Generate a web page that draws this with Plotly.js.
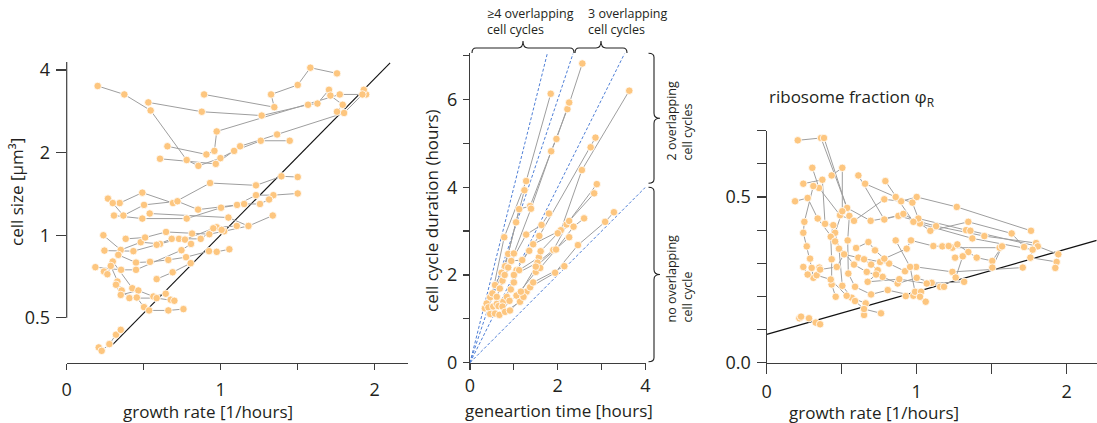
<!DOCTYPE html>
<html><head><meta charset="utf-8">
<script src="https://cdn.plot.ly/plotly-3.0.1.min.js"></script>
<style>html,body{margin:0;padding:0;background:#fff}#chart{width:1097px;height:423px}</style>
</head><body><div id="chart"></div>
<script>
// ---------- Panel 1: cell size vs growth rate (one sub-array per strain trajectory)
const sizeX = [
  [0.201,0.374,0.545,0.779,0.855,0.998,1.087,1.260,1.448],
  [0.530,0.877,1.266,1.567,1.628,1.703,1.712,1.792,1.755],
  [0.892,1.348,1.327,1.500,1.582,1.755],
  [0.654,0.907,0.959,0.974,1.773,1.944,1.929],
  [0.606,0.968,1.126,1.366,1.801,1.920],
  [0.268,0.344,0.491,0.690,0.931,1.229,1.394,1.500],
  [0.299,0.368,0.502,0.719,0.853,1.106,1.229,1.342,1.500],
  [0.307,0.491,0.779,1.002,1.152,1.255,1.314],
  [0.539,1.050,1.180,1.338],
  [0.238,0.351,0.481,0.606,0.729,0.870,0.974,1.104],
  [0.383,0.509,0.645,0.814,0.926,1.022,1.180],
  [0.245,0.433,0.584,0.682,0.768,0.952,1.006],
  [0.335,0.450,0.541,0.660,0.775,0.924,0.974,1.056],
  [0.186,0.353,0.450,0.745,0.807],
  [0.242,0.264,0.299,0.426,0.563,0.643,0.675],
  [0.286,0.329,0.357,0.407,0.584,0.699],
  [0.320,0.351,0.465,0.455,0.502,0.535,0.660,0.758],
  [0.584,0.688,0.805],
  [0.208,0.227,0.277,0.320,0.351]
];
const sizeY = [
  [3.50,3.26,2.85,1.88,1.79,1.91,2.03,2.21,2.21],
  [3.05,2.82,2.73,2.99,3.02,3.39,3.23,2.99,2.82],
  [3.26,2.93,3.26,3.53,4.08,3.89],
  [2.11,1.97,2.03,2.39,3.26,3.26,3.39],
  [1.90,1.82,2.11,2.33,2.79,3.26],
  [1.36,1.31,1.43,1.31,1.55,1.52,1.64,1.63],
  [1.31,1.18,1.29,1.33,1.24,1.29,1.40,1.40,1.42],
  [1.18,1.15,1.15,1.26,1.30,1.30,1.35],
  [1.20,1.16,1.08,1.18],
  [1.000,0.884,0.943,0.930,0.970,0.970,1.069,1.081],
  [0.970,0.981,1.028,1.014,1.009,1.034,1.081],
  [0.879,0.875,0.923,0.970,0.964,1.060,1.046],
  [0.848,0.795,0.800,0.813,0.832,0.875,0.870,0.889],
  [0.765,0.748,0.748,0.882,0.930],
  [0.738,0.721,0.802,0.641,0.598,0.612,0.582],
  [0.773,0.678,0.629,0.590,0.590,0.577],
  [0.660,0.606,0.629,0.593,0.547,0.532,0.532,0.538],
  [0.692,0.733,0.791],
  [0.390,0.379,0.401,0.434,0.452]
];
const sizeLineX = [0.30, 2.10];
const sizeLineY = [0.40, 4.25];
const sizeTicks = [0.5, 1, 2, 4];
const sizeTickText = ['0.5', '1', '2', '4'];

// ---------- Panel 2: cell cycle duration vs generation time
const cycleX = [
  [0.34,0.46,0.51,0.78,1.28,1.84],
  [0.38,0.57,0.72,0.87,1.05,1.24],
  [0.42,0.80,1.12,1.37,2.22,2.56],
  [0.46,0.68,1.00,1.39,1.85,1.97,2.26],
  [0.53,0.74,0.79,0.87,1.28,1.63,1.80],
  [0.57,0.61,0.94,1.19,1.58,2.75,2.86],
  [0.61,0.93,1.06,1.35,1.44,2.07,2.55,3.63],
  [0.65,0.76,1.00,1.12,1.57,1.61,2.00,2.20,2.89],
  [0.74,0.84,1.00,1.54,1.90,2.26,2.83],
  [0.67,0.90,1.06,1.50,1.60,1.96,2.36,2.60],
  [0.80,1.14,1.29,1.37,1.94,2.46,3.08,3.28],
  [0.91,1.22,1.44,2.15],
  [1.16,1.50,2.26]
];
const cycleY = [
  [1.24,1.49,1.58,2.86,4.14,6.13],
  [1.35,1.77,2.05,2.48,3.20,3.93],
  [1.26,2.20,3.50,3.57,5.78,6.82],
  [1.11,1.69,2.49,3.51,4.82,5.10,5.93],
  [1.28,1.87,2.00,2.17,2.92,3.14,3.40],
  [1.12,1.50,2.32,2.34,2.89,4.91,5.13],
  [1.34,1.67,2.11,2.55,2.70,3.02,4.39,6.20],
  [1.29,1.39,1.83,2.11,2.40,2.54,2.95,3.15,4.07],
  [1.28,1.50,2.00,2.28,2.57,3.23,3.86],
  [1.09,1.41,1.53,2.07,2.16,2.58,3.10,3.29],
  [1.16,1.39,1.62,1.72,2.05,2.68,3.21,3.43],
  [1.19,1.50,1.83,2.20],
  [1.62,2.19,2.86]
];
const overlapSlopes = [4, 3, 2, 1];   // cell cycle duration = slope x generation time
const cycleRangeX = [0, 4];
const cycleRangeY = [0, 7.05];

// ---------- Panel 3: ribosome fraction vs growth rate
const riboX = [
  [0.207,0.362,0.536,0.693,0.878,1.129,1.451,1.796],
  [0.382,0.551,0.540,0.544,0.589,0.696,0.807,0.978,1.060],
  [0.304,0.349,0.489,0.582,0.784,0.896,1.000,1.267,1.762],
  [0.433,0.504,0.504,0.456,0.482,0.504,0.567,0.660,0.649],
  [0.244,0.371,0.389,0.444,0.427,0.433,0.433,0.460],
  [0.189,0.273,0.340,0.456,0.582,0.667,0.773,0.873,1.000,1.100,1.156,1.182],
  [0.311,0.251,0.244,0.267,0.289,0.300,0.311],
  [0.611,0.784,0.911,1.022,1.091,1.344,1.633,1.716],
  [0.656,0.860,0.971,1.011,1.329,1.358,1.807,1.944],
  [0.791,0.978,1.371,1.773,1.758,1.933,1.924],
  [0.244,0.273,0.333,0.427,0.533,0.589,0.649,0.762],
  [0.351,0.356,0.467,0.516,0.611,0.756,0.816,0.922,0.996,1.238,1.707],
  [0.596,0.678,0.722,0.784,0.933,0.962,1.111,1.171,1.238,1.553],
  [0.649,0.696,0.740,0.729,0.673,0.884,1.067,1.316],
  [0.860,0.956,0.989,1.029,1.022,0.927],
  [1.213,1.271,1.344,1.400,1.504,1.569,1.504],
  [1.256,1.307,1.260],
  [0.218,0.229,0.282,0.327,0.356]
];
const riboY = [
  [0.671,0.678,0.467,0.428,0.443,0.412,0.382,0.361],
  [0.678,0.443,0.369,0.269,0.229,0.206,0.219,0.202,0.184],
  [0.588,0.527,0.445,0.428,0.493,0.487,0.500,0.470,0.398],
  [0.565,0.588,0.457,0.392,0.344,0.232,0.196,0.179,0.144],
  [0.540,0.552,0.419,0.415,0.380,0.312,0.236,0.199],
  [0.487,0.497,0.435,0.366,0.296,0.274,0.259,0.239,0.256,0.241,0.229,0.229],
  [0.533,0.425,0.392,0.351,0.314,0.286,0.256],
  [0.565,0.432,0.449,0.420,0.398,0.425,0.390,0.349],
  [0.540,0.500,0.483,0.435,0.400,0.398,0.351,0.327],
  [0.548,0.425,0.375,0.341,0.317,0.304,0.286],
  [0.289,0.266,0.264,0.251,0.202,0.186,0.162,0.149],
  [0.287,0.281,0.289,0.327,0.317,0.304,0.299,0.276,0.289,0.274,0.287],
  [0.346,0.364,0.339,0.314,0.344,0.369,0.352,0.351,0.347,0.347],
  [0.312,0.296,0.279,0.266,0.244,0.252,0.239,0.244],
  [0.369,0.289,0.214,0.214,0.199,0.201],
  [0.352,0.357,0.334,0.317,0.307,0.351,0.287],
  [0.317,0.321,0.257],
  [0.134,0.139,0.134,0.121,0.116]
];
const riboLineX = [0, 2.2];
const riboLineY = [0.0855, 0.369];

// ---------- styling / layout helpers
const W = 1097, H = 423;
const PX = p => p / W, PY = p => 1 - p / H;
const FONT = 'Open Sans, Noto Sans, sans-serif';
const INK = '#231f20', AX = '#3d3d3d';
const DOT = '#fdc67f', GRAY = '#9e9e9e', BLUE = '#4f7fd6';

function joined(xs, ys) {
  const X = [], Y = [];
  xs.forEach((c, i) => { X.push(...c, null); Y.push(...ys[i], null); });
  return {X, Y};
}
const flat = a => [].concat(...a);

function panelTraces(xs, ys, xa, ya) {
  const j = joined(xs, ys);
  return [
    {x: j.X, y: j.Y, xaxis: xa, yaxis: ya, mode: 'lines', type: 'scatter',
     line: {color: GRAY, width: 1}, hoverinfo: 'skip', connectgaps: false},
    {x: flat(xs), y: flat(ys), xaxis: xa, yaxis: ya, mode: 'markers', type: 'scatter',
     cliponaxis: false,
     marker: {color: DOT, size: 7.5, line: {color: '#ffffff', width: 0.8}}, hoverinfo: 'skip'}
  ];
}

const traces = [];
// reference lines first (behind)
traces.push({x: sizeLineX, y: sizeLineY, xaxis: 'x', yaxis: 'y', mode: 'lines', type: 'scatter',
  line: {color: '#111', width: 1.1}, hoverinfo: 'skip'});
overlapSlopes.forEach(k => {
  const xe = Math.min(cycleRangeX[1], cycleRangeY[1] / k);
  traces.push({x: [0, xe], y: [0, k * xe], xaxis: 'x2', yaxis: 'y2', mode: 'lines', type: 'scatter',
    line: {color: BLUE, width: 1, dash: '3px,2px'}, hoverinfo: 'skip'});
});
traces.push({x: riboLineX, y: riboLineY, xaxis: 'x3', yaxis: 'y3', mode: 'lines', type: 'scatter',
  line: {color: '#111', width: 1.3}, hoverinfo: 'skip'});
traces.push(...panelTraces(sizeX, sizeY, 'x', 'y'));
traces.push(...panelTraces(cycleX, cycleY, 'x2', 'y2'));
traces.push(...panelTraces(riboX, riboY, 'x3', 'y3'));

const tickFont = {family: FONT, size: 18, color: INK};
const baseAx = {showgrid: false, zeroline: false, ticks: 'outside', tickcolor: AX, tickwidth: 1.2,
  linecolor: AX, linewidth: 1.2, tickfont: tickFont, tickmode: 'array', fixedrange: true};
const minor = (vals, len) => ({tickmode: 'array', tickvals: vals, ticks: 'outside', ticklen: len,
  tickcolor: AX, tickwidth: 1.2, showgrid: false});

const leftYRange = [-0.4657, 0.657];
const leftYDom = [PY(363), PY(55)];
const layout = {
  width: W, height: H, margin: {l: 0, r: 0, t: 0, b: 0}, showlegend: false,
  paper_bgcolor: '#fff', plot_bgcolor: 'rgba(0,0,0,0)', font: {family: FONT, color: INK},
  xaxis: Object.assign({}, baseAx, {domain: [PX(66.7), PX(408)], range: [0, 2.216], anchor: 'y',
    showline: true, ticklen: 6, tickvals: [0, 1, 2], ticktext: ['0', '1', '2'], ticklabelstandoff: 4,
    minor: minor([0.5, 1.5], 6)}),
  yaxis: Object.assign({}, baseAx, {domain: leftYDom, type: 'log', range: leftYRange, anchor: 'x',
    showline: false, ticklen: 10, tickvals: sizeTicks, ticktext: sizeTickText, ticklabelstandoff: 2}),
  xaxis2: Object.assign({}, baseAx, {domain: [PX(470), PX(645.5)], range: cycleRangeX, anchor: 'y2',
    showline: true, ticklen: 6, tickvals: [0, 2, 4], ticktext: ['0', '2', '4'], ticklabelstandoff: 0,
    minor: minor([1, 3], 6)}),
  yaxis2: Object.assign({}, baseAx, {domain: [PY(362.7), PY(53.4)], range: cycleRangeY, anchor: 'x2',
    showline: true, ticklen: 6, tickvals: [0, 2, 4, 6], ticktext: ['0', '2', '4', '6'], ticklabelstandoff: 2,
    minor: minor([1, 3, 5, 7], 6)}),
  xaxis3: Object.assign({}, baseAx, {domain: [PX(766.7), PX(1096.7)], range: [0, 2.2], anchor: 'y3',
    showline: true, ticklen: 10, tickvals: [0, 1, 2], ticktext: ['0', '1', '2'], ticklabelstandoff: 2,
    minor: minor([0.5, 1.5], 10)}),
  yaxis3: Object.assign({}, baseAx, {domain: [PY(362.7), PY(130.7)], range: [0, 0.7], anchor: 'x3',
    showline: true, ticklen: 9, tickvals: [0, 0.5], ticktext: ['0.0', '0.5'], ticklabelstandoff: 2,
    minor: minor([0.1, 0.2, 0.3, 0.4, 0.6, 0.7], 9)})
};

// detached y-axis line of the left panel (from the 0.5 tick to the top)
function leftYPaper(v) {
  return leftYDom[0] + (Math.log10(v) - leftYRange[0]) / (leftYRange[1] - leftYRange[0]) * (leftYDom[1] - leftYDom[0]);
}
const shapes = [{type: 'line', xref: 'paper', yref: 'paper', x0: PX(66.7), x1: PX(66.7),
  y0: leftYPaper(0.5), y1: PY(62), line: {color: AX, width: 1.2}}];

// curly braces (pixel geometry -> paper)
function hBrace(x0, x1, yEnd, yFlat, yTip) {
  const xm = (x0 + x1) / 2, r = 5, e = 4;
  const P = (x, y) => PX(x) + ',' + PY(y);
  return `M ${P(x0, yEnd)} Q ${P(x0, yFlat)} ${P(x0 + e, yFlat)} L ${P(xm - r, yFlat)} Q ${P(xm, yFlat)} ${P(xm, yTip)} ` +
         `Q ${P(xm, yFlat)} ${P(xm + r, yFlat)} L ${P(x1 - e, yFlat)} Q ${P(x1, yFlat)} ${P(x1, yEnd)}`;
}
function vBrace(y0, y1, xEnd, xFlat, xTip) {
  const ym = (y0 + y1) / 2, r = 5, e = 4;
  const P = (x, y) => PX(x) + ',' + PY(y);
  return `M ${P(xEnd, y0)} Q ${P(xFlat, y0)} ${P(xFlat, y0 + e)} L ${P(xFlat, ym - r)} Q ${P(xFlat, ym)} ${P(xTip, ym)} ` +
         `Q ${P(xFlat, ym)} ${P(xFlat, ym + r)} L ${P(xFlat, y1 - e)} Q ${P(xFlat, y1)} ${P(xEnd, y1)}`;
}
[hBrace(472, 574, 53, 48, 41), hBrace(575, 627, 53, 48, 41),
 vBrace(53.3, 183.3, 648.5, 654, 660), vBrace(187.3, 361.7, 648.5, 654, 660)].forEach(p =>
  shapes.push({type: 'path', xref: 'paper', yref: 'paper', path: p, line: {color: '#222', width: 1.1}}));
layout.shapes = shapes;

const tFont = {family: FONT, size: 17, color: INK};
const sFont = {family: FONT, size: 12.5, color: INK};
const ann = (text, x, y, o) => Object.assign({text, x: PX(x), y: PY(y), xref: 'paper', yref: 'paper',
  showarrow: false, xanchor: 'center', yanchor: 'middle', font: tFont}, o || {});
layout.annotations = [
  ann('cell size [µm³]', 16, 192, {textangle: -90}),
  ann('growth rate [1/hours]', 208, 411),
  ann('cell cycle duration (hours)', 432, 211, {textangle: -90}),
  ann('geneartion time [hours]', 559, 410.5),
  ann('growth rate [1/hours]', 874, 412),
  ann('ribosome fraction φ<sub>R</sub>', 767, 97, {xanchor: 'left'}),
  ann('≥4 overlapping<br>cell cycles', 485, 21.7, {xanchor: 'left', align: 'left', font: sFont}),
  ann('3 overlapping<br>cell cycles', 585.7, 21.7, {xanchor: 'left', align: 'left', font: sFont}),
  ann('2 overlapping<br>cell cycles', 678.5, 163, {textangle: -90, yanchor: 'bottom', align: 'left', font: sFont}),
  ann('no overlapping<br>cell cycle', 678.5, 325, {textangle: -90, yanchor: 'bottom', align: 'left', font: sFont})
];

Plotly.newPlot('chart', traces, layout, {staticPlot: true, displayModeBar: false});
</script></body></html>
